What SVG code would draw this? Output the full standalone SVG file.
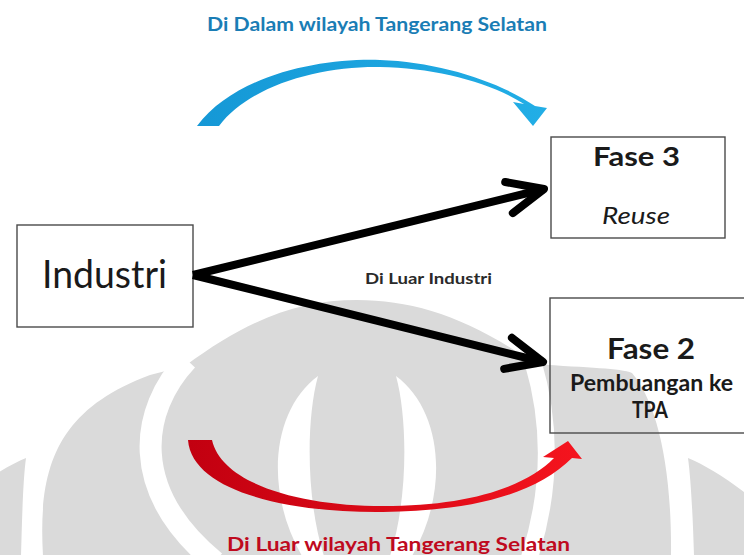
<svg xmlns="http://www.w3.org/2000/svg" width="744" height="555" viewBox="0 0 744 555">
<style>
.wm{fill:#dadada}
.wmw{fill:#ffffff}
.box{fill:none;stroke:#4a4a4a;stroke-width:1.4}
.t{font-family:Lato,"Liberation Sans",sans-serif;fill:#1a1a1a;text-anchor:middle}
.b{font-weight:bold}
.conn{stroke:#000;stroke-width:8;fill:none}
</style>
<defs>
<marker id="chev" markerUnits="userSpaceOnUse" viewBox="-50 -30 60 60" refX="0" refY="0" markerWidth="60" markerHeight="60" orient="auto" overflow="visible">
<path d="M -36,-16 L 0,0 L -36,16" fill="none" stroke="#000" stroke-width="8" stroke-linecap="round" stroke-linejoin="round"/>
</marker>
<linearGradient id="gBlue" x1="0" y1="0" x2="1" y2="0">
<stop offset="0" stop-color="#1598d6"/>
<stop offset="1" stop-color="#22aee6"/>
</linearGradient>
<linearGradient id="gRed" x1="0" y1="0" x2="1" y2="0">
<stop offset="0" stop-color="#c20010"/>
<stop offset="1" stop-color="#f5141e"/>
</linearGradient>
</defs>
<rect x="0" y="0" width="744" height="555" fill="#ffffff"/>
<g id="watermark">
<path class="wm" d="M 43,556 C 38,470 55,410 150,375 L 185,366 C 250,318 300,300 357,300 C 414,300 470,318 535,364 C 590,368 620,368 632,373 C 655,400 672,460 671,556 Z"/>
<path class="wm" d="M 26,458 C 9,465 -16,480 -40,500 L -40,556 L 21,556 C 22,520 23,480 26,458 Z"/>
<path class="wm" d="M 688,458 C 705,465 730,480 754,500 L 754,556 L 694,556 C 693,520 691,480 688,458 Z"/>
<path d="M 187,360 C 140,410 128,490 215,562" fill="none" stroke="#ffffff" stroke-width="22"/>
<path d="M 533,362 Q 562,460 528,562" fill="none" stroke="#ffffff" stroke-width="17"/>
<path class="wmw" d="M 318,376 C 272,410 264,490 302,556 L 324,556 C 306,500 306,420 318,376 Z"/>
<path class="wmw" d="M 396,376 C 442,410 450,490 412,556 L 390,556 C 408,500 408,420 396,376 Z"/>
</g>
<g id="node-industri">
<rect class="box" x="17" y="225" width="176" height="102"/>
<text class="t" x="104.5" y="288" font-size="39" textLength="125" lengthAdjust="spacingAndGlyphs">Industri</text>
</g>
<g id="node-fase3">
<rect class="box" x="551" y="137" width="174" height="101"/>
<text class="t b" x="636.5" y="166" font-size="27" textLength="87" lengthAdjust="spacingAndGlyphs">Fase 3</text>
<text class="t" x="636" y="224" font-size="24" font-style="italic" textLength="68" lengthAdjust="spacingAndGlyphs">Reuse</text>
</g>
<g id="node-fase2">
<rect class="box" x="550" y="298" width="200" height="135"/>
<text class="t b" x="651" y="359" font-size="29" textLength="88" lengthAdjust="spacingAndGlyphs">Fase 2</text>
<text class="t b" x="651.5" y="391" font-size="22" textLength="163" lengthAdjust="spacingAndGlyphs">Pembuangan ke</text>
<text class="t b" x="650" y="418" font-size="22" textLength="36" lengthAdjust="spacingAndGlyphs">TPA</text>
</g>
<g id="connectors">
<path d="M 197,126 C 235,75 320,58 380,60 C 440,62 500,82 535,106 L 547,108 L 533,126 L 513,102 L 524,104 C 490,82 435,68 380,67 C 320,66 250,85 219,126 Z" fill="url(#gBlue)"/>
<path d="M 188,440 C 192,492 290,513 383,512 C 470,511 535,495 572,458 L 582,459 L 568,441 L 543,457 L 554,458 C 525,488 465,506 383,506 C 300,506 222,484 212,440 Z" fill="url(#gRed)"/>
<path class="conn" d="M 193,275 L 544,189" marker-end="url(#chev)"/>
<path class="conn" d="M 193,275 L 543,362" marker-end="url(#chev)"/>
</g>
<g id="labels">
<text class="t b" x="377" y="31" font-size="19" style="fill:#1a7db5" textLength="340" lengthAdjust="spacingAndGlyphs">Di Dalam wilayah Tangerang Selatan</text>
<text class="t b" x="428.5" y="284" font-size="16" style="fill:#2a2a2a" textLength="127" lengthAdjust="spacingAndGlyphs">Di Luar Industri</text>
<text class="t b" x="398.5" y="551" font-size="19" style="fill:#bf0a1e" textLength="343" lengthAdjust="spacingAndGlyphs">Di Luar wilayah Tangerang Selatan</text>
</g>
</svg>
